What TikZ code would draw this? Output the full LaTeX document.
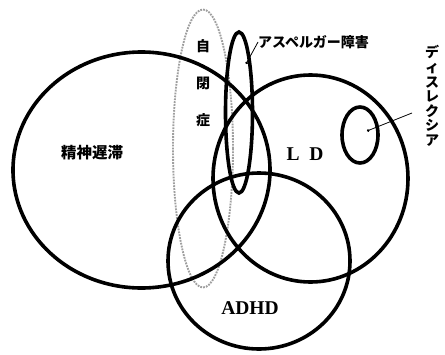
\documentclass[tikz,border=0pt]{standalone}
\usepackage{fontspec}
\setmainfont{Liberation Serif}
\newfontfamily\jp{Noto Sans CJK JP}
\usepackage{tikz}
\usetikzlibrary{shapes,arrows,arrows.meta,positioning}

\begin{document}
\begin{tikzpicture}[
    x=1pt, y=-1pt,
    circ/.style={ellipse, draw=black, line width=3.6pt, inner sep=0pt, outer sep=0pt},
    autism/.style={ellipse, draw=gray!75, line width=1.9pt, dash pattern=on 1.8pt off 1.1pt, inner sep=0pt, outer sep=0pt},
    jlabel/.style={font=\jp\bfseries\fontsize{14}{14}\selectfont, inner sep=0pt, align=center},
    elabel/.style={font=\bfseries\fontsize{19.5}{20}\selectfont, inner sep=0pt},
    pointer/.style={line width=0.8pt, -{Circle[length=2.6pt]}}
]
\useasboundingbox (0,0) rectangle (445,354);

% Autism (dotted, below the others)
\node[autism, minimum width=60pt, minimum height=278pt] (autism) at (203,148.5) {};

% Circles
\node[circ, minimum width=257pt, minimum height=236pt] (mr) at (141.5,170) {};
\node[circ, minimum width=195pt, minimum height=207pt] (ld) at (310.5,178.5) {};
\node[circ, minimum width=182pt, minimum height=176pt] (adhd) at (259,261) {};
\node[circ, minimum width=27pt, minimum height=161pt] (asp) at (239,112.5) {};
\node[circ, minimum width=36pt, minimum height=56pt] (dys) at (360,135) {};

% Labels
\node[jlabel, font=\jp\bfseries\fontsize{15.5}{15.5}\selectfont] (mrlabel) at (92,153) {精神遅滞};
\node[jlabel, font=\jp\bfseries\fontsize{14}{37}\selectfont] (autlabel) at (203,83) {自\\閉\\症};
\node[elabel] (ldlabel) at (305,154) {L\enspace D};
\node[elabel] (adhdlabel) at (250,308) {ADHD};
\node[jlabel, anchor=west] (asplabel) at (258,42) {アスペルガー障害};
\node[jlabel, font=\jp\bfseries\fontsize{14}{14.6}\selectfont] (dyslabel) at (432,96) {デ\\ィ\\ス\\レ\\ク\\シ\\ア};

% Pointers
\coordinate (aspdot) at (246,64);
\coordinate (dystail) at (412,113);
\coordinate (dysdot) at (367,131);
\draw[pointer] (asplabel.west) -- (aspdot);
\draw[pointer] (dystail) -- (dysdot);

\end{tikzpicture}
\end{document}
